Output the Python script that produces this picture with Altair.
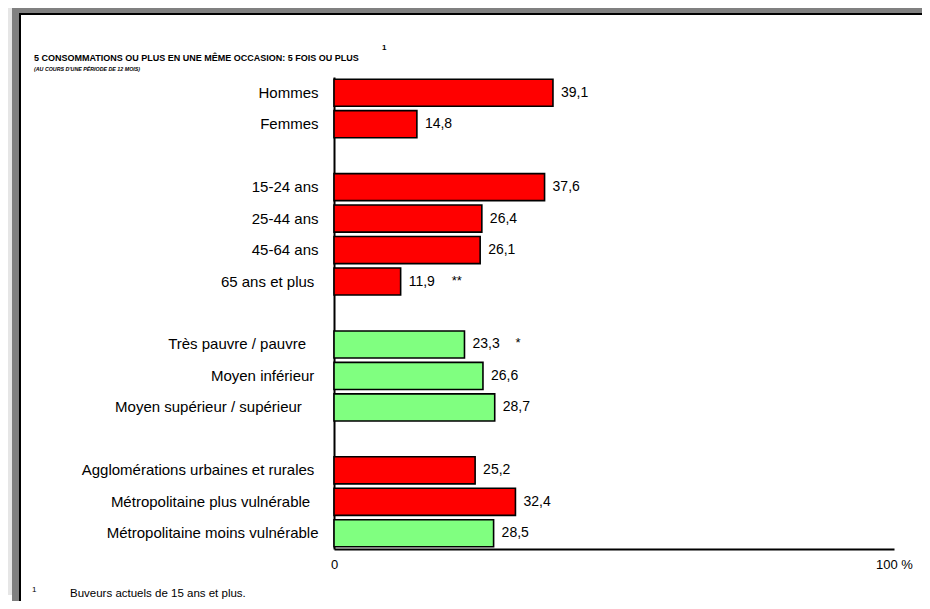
import altair as alt
import pandas as pd

# ---- data ----
# the source labels carry trailing spaces; a zero-width space keeps them from being trimmed
NB = "\u00a0"
END = "\u200b"
categories = ["Hommes", "Femmes", "15-24 ans", "25-44 ans", "45-64 ans", "65 ans et plus" + NB + END,
              "Très pauvre / pauvre" + NB * 3 + END, "Moyen inférieur" + NB + END,
              "Moyen supérieur / supérieur" + NB * 4 + END,
              "Agglomérations urbaines et rurales" + NB + END, "Métropolitaine plus vulnérable" + NB * 2 + END,
              "Métropolitaine moins vulnérable"]
values = [39.1, 14.8, 37.6, 26.4, 26.1, 11.9, 23.3, 26.6, 28.7, 25.2, 32.4, 28.5]
groups = ["r", "r", "r", "r", "r", "r", "g", "g", "g", "r", "r", "g"]
notes = ["", "", "", "", "", "**", "*", "", "", "", "", ""]
gaps = ["_gap1", "_gap2", "_gap3"]
domain_order = (categories[0:2] + [gaps[0]] + categories[2:6] + [gaps[1]] +
                categories[6:9] + [gaps[2]] + categories[9:12])
x_ticks = [0, 100]

title_text = "5 CONSOMMATIONS OU PLUS EN UNE MÊME OCCASION: 5 FOIS OU PLUS"
subtitle_text = "(AU COURS D'UNE PÉRIODE DE 12 MOIS)"
footnote_text = "Buveurs actuels de 15 ans et plus."

df = pd.DataFrame({
    "cat": categories,
    "val": values,
    "grp": groups,
    "note": notes,
    "lab": [f"{v:.1f}".replace(".", ",") for v in values],
})

FONT = "Liberation Sans"

W, H = 560, 472

xscale = alt.Scale(domain=[0, 100], nice=False, zero=True)
yscale = alt.Scale(domain=domain_order, paddingInner=0.14, paddingOuter=0.07)

bars = alt.Chart(df).mark_bar(stroke="black", strokeWidth=1.6).encode(
    x=alt.X("val:Q", scale=xscale,
            axis=alt.Axis(values=x_ticks, title=None, grid=False, ticks=False,
                          domainColor="black", domainWidth=2,
                          labelExpr="datum.value == 100 ? '100 %' : datum.label",
                          labelFont=FONT, labelFontSize=13, labelColor="black",
                          labelPadding=9, labelFlush=False)),
    y=alt.Y("cat:N", scale=yscale, sort=domain_order,
            axis=alt.Axis(title=None, grid=False, ticks=False, domainColor="black",
                          domainWidth=2, labelFont=FONT, labelFontSize=15,
                          labelColor="black", labelPadding=16, labelLimit=400,
                          labelExpr="indexof(datum.value, '_gap') == 0 ? '' : datum.label")),
    color=alt.Color("grp:N", scale=alt.Scale(domain=["r", "g"], range=["#FF0000", "#80FF80"]),
                    legend=None),
)

labels = alt.Chart(df).mark_text(align="left", baseline="middle", dx=8, font=FONT,
                                 fontSize=14, color="black").encode(
    x=alt.X("val:Q", scale=xscale),
    y=alt.Y("cat:N", scale=yscale, sort=domain_order),
    text="lab:N",
)

note_marks = alt.Chart(df).mark_text(align="left", baseline="middle", dx=51, dy=-1,
                                     font=FONT, fontSize=13, color="black").encode(
    x=alt.X("val:Q", scale=xscale),
    y=alt.Y("cat:N", scale=yscale, sort=domain_order),
    text="note:N",
)

one = pd.DataFrame({"k": [0]})
# plot origin is at page (334, 77)
OX, OY = 334, 77

def rect(x1, x2, y1, y2, color):
    return alt.Chart(one).mark_rect(color=color, strokeWidth=0).encode(
        x=alt.value(x1 - OX), x2=alt.value(x2 - OX),
        y=alt.value(y1 - OY), y2=alt.value(y2 - OY))

frame = [
    rect(8, 12, 8, 595, "#E6E6E6"),
    rect(12, 930, 8, 13, "#808080"),
    rect(12, 19, 8, 603, "#808080"),
    rect(19, 930, 13, 15, "#000000"),
    rect(19, 21, 13, 609, "#000000"),
]

def txt(s, x, y, size, weight="normal", style="normal", font=FONT):
    return alt.Chart(one).mark_text(text=s, align="left", baseline="alphabetic",
                                    font=font, fontSize=size, fontWeight=weight,
                                    fontStyle=style, color="black").encode(
        x=alt.value(x - OX), y=alt.value(y - OY))

texts = [
    txt(title_text, 34, 61, 9, weight="bold"),
    txt("1", 382, 50, 8, weight="bold"),
    txt(subtitle_text, 34, 71, 5.3, weight="bold", style="italic"),
    txt("1", 32, 592, 8),
    txt(footnote_text, 70, 597, 11.5),
]

chart = alt.layer(*frame, bars, labels, note_marks, *texts).properties(
    width=W, height=H,
    autosize=alt.AutoSizeParams(type="none"),
    padding={"left": OX - 8, "top": OY - 8, "right": 922 - (OX + W), "bottom": 601 - (OY + H)},
    background="white",
).configure_view(stroke=None)

chart.save("out.html", embed_options={"renderer": "svg", "actions": False})
